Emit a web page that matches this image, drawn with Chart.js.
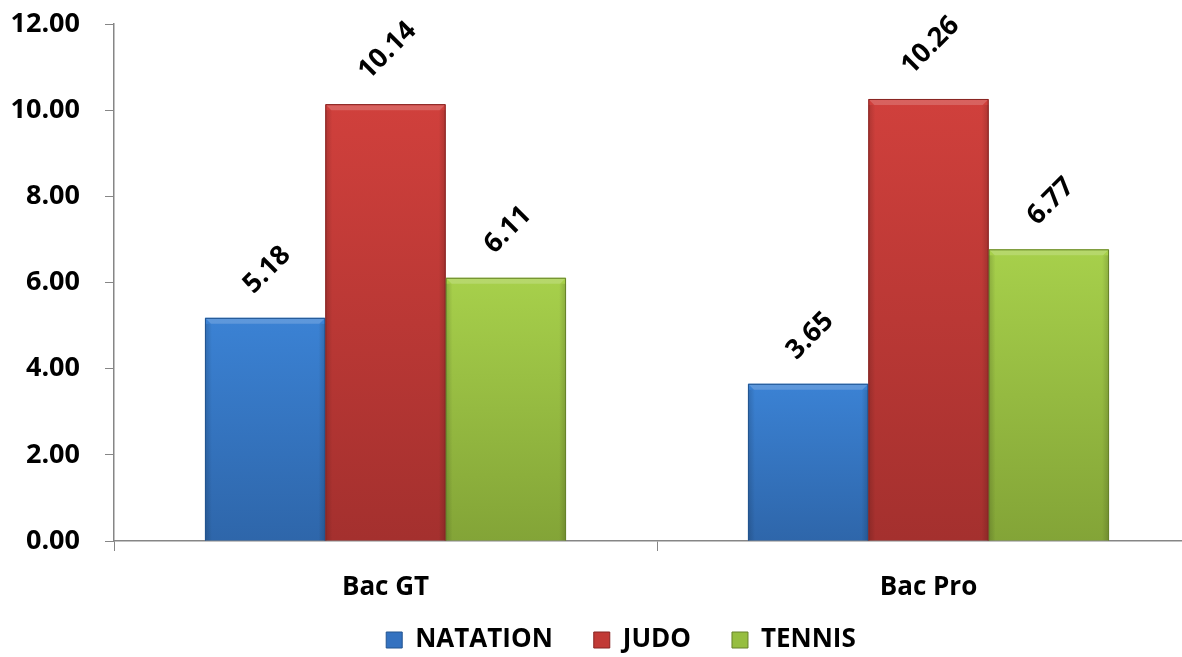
<!DOCTYPE html>
<html>
<head>
<meta charset="utf-8">
<script src="https://cdn.jsdelivr.net/npm/chart.js@4.4.1/dist/chart.umd.min.js"></script>
<style>
  html, body { margin: 0; padding: 0; background: #fff; overflow: hidden; }
  #wrap { width: 1182px; height: 657px; overflow: hidden; position: relative; }
  #c { position: absolute; left: 0; top: 0; }
</style>
</head>
<body>
<div id="wrap"><canvas id="c" width="1242" height="657"></canvas></div>
<script>
const categories = ['Bac GT', 'Bac Pro'];
const seriesNames = ['NATATION', 'JUDO', 'TENNIS'];
const natation = [5.18, 3.65];
const judo = [10.14, 10.26];
const tennis = [6.11, 6.77];
const yTicks = [0, 2, 4, 6, 8, 10, 12];

const palette = {
  NATATION: { top: '#3b82d4', bottom: '#2e66aa', solid: '#3472c0', edge: '#22548f' },
  JUDO:     { top: '#d0403c', bottom: '#a4302e', solid: '#c13a36', edge: '#862422' },
  TENNIS:   { top: '#a7d04b', bottom: '#83a437', solid: '#96be40', edge: '#66822a' }
};

const FONT = "'Open Sans', 'DejaVu Sans', sans-serif";

function grad(name) {
  return function (ctx) {
    const chart = ctx.chart;
    const p = palette[name];
    if (!chart.chartArea || ctx.raw === undefined) return p.solid;
    const y = chart.scales.y;
    const top = y.getPixelForValue(ctx.raw);
    const bottom = y.getPixelForValue(0);
    const g = chart.ctx.createLinearGradient(0, top, 0, bottom);
    g.addColorStop(0, p.top);
    g.addColorStop(1, p.bottom);
    return g;
  };
}

function makeDataset(name, values) {
  return {
    label: name,
    data: values,
    backgroundColor: grad(name),
    borderWidth: 0,
    categoryPercentage: 0.665,
    barPercentage: 1.0
  };
}

const bevelPlugin = {
  id: 'bevel',
  afterDatasetsDraw(chart) {
    const ctx = chart.ctx;
    chart.data.datasets.forEach((ds, i) => {
      const meta = chart.getDatasetMeta(i);
      const edge = palette[ds.label].edge;
      meta.data.forEach(el => {
        const half = el.width / 2;
        const l = el.x - half, r = el.x + half, t = el.y, b = el.base;
        ctx.save();
        ctx.fillStyle = 'rgba(255,255,255,0.18)';
        ctx.beginPath();
        ctx.moveTo(l + 1, t + 1);
        ctx.lineTo(r - 1, t + 1);
        ctx.lineTo(r - 6, t + 6);
        ctx.lineTo(l + 6, t + 6);
        ctx.closePath();
        ctx.fill();
        const gl = ctx.createLinearGradient(l, 0, l + 7, 0);
        gl.addColorStop(0, 'rgba(0,0,0,0.16)');
        gl.addColorStop(1, 'rgba(0,0,0,0)');
        ctx.fillStyle = gl;
        ctx.fillRect(l, t + 6, 7, b - t - 6);
        const gr = ctx.createLinearGradient(r - 7, 0, r, 0);
        gr.addColorStop(0, 'rgba(0,0,0,0)');
        gr.addColorStop(1, 'rgba(0,0,0,0.16)');
        ctx.fillStyle = gr;
        ctx.fillRect(r - 7, t + 6, 7, b - t - 6);
        ctx.strokeStyle = edge;
        ctx.lineWidth = 1;
        ctx.beginPath();
        ctx.moveTo(l + 0.5, b);
        ctx.lineTo(l + 0.5, t + 0.5);
        ctx.lineTo(r - 0.5, t + 0.5);
        ctx.lineTo(r - 0.5, b);
        ctx.stroke();
        ctx.restore();
      });
    });
  }
};

const labelPlugin = {
  id: 'rotLabels',
  afterDatasetsDraw(chart) {
    const ctx = chart.ctx;
    ctx.save();
    ctx.font = 'bold 27px ' + FONT;
    ctx.fillStyle = '#000';
    ctx.textAlign = 'center';
    ctx.textBaseline = 'middle';
    chart.data.datasets.forEach((ds, i) => {
      const meta = chart.getDatasetMeta(i);
      meta.data.forEach((el, j) => {
        const txt = ds.data[j].toFixed(2);
        const w = ctx.measureText(txt).width;
        const cx = el.x + 2;
        const cy = el.y - 22 - (w + 19) * 0.3536;
        ctx.save();
        ctx.translate(cx, cy);
        ctx.rotate(-Math.PI / 4);
        ctx.fillText(txt, 0, 0);
        ctx.restore();
      });
    });
    ctx.restore();
  }
};

const moveLegend = {
  id: 'moveLegend',
  afterLayout(chart) {
    const lg = chart.legend;
    if (lg) {
      lg.left += 21;
      lg.right += 21;
      lg.top = 586;
      lg.bottom = 586 + 90;
    }
  }
};

new Chart(document.getElementById('c'), {
  type: 'bar',
  data: {
    labels: categories,
    datasets: [
      makeDataset(seriesNames[0], natation),
      makeDataset(seriesNames[1], judo),
      makeDataset(seriesNames[2], tennis)
    ]
  },
  plugins: [bevelPlugin, labelPlugin, moveLegend],
  options: {
    responsive: false,
    animation: false,
    layout: { padding: { top: 24, right: 42, bottom: 0, left: 0 } },
    scales: {
      x: {
        grid: { display: true, drawOnChartArea: false, drawTicks: true, tickLength: 10, color: '#868686', offset: true },
        border: { display: true, color: '#868686', width: 1.5 },
        ticks: { color: '#000', font: { family: FONT, size: 26, weight: 'bold' }, padding: 21 },
        afterFit(scale) { scale.height = 76; scale.paddingLeft = 0; scale.paddingRight = 0; }
      },
      y: {
        min: 0,
        max: 12,
        afterBuildTicks(scale) { scale.ticks = yTicks.map(v => ({ value: v })); },
        grid: { display: true, drawOnChartArea: false, drawTicks: true, tickLength: 9, color: '#868686' },
        border: { display: true, color: '#868686', width: 1.5 },
        ticks: {
          color: '#000',
          font: { family: FONT, size: 27, weight: 'bold' },
          padding: 25,
          callback: v => Number(v).toFixed(2)
        },
        afterFit(scale) { scale.width = 114; scale.paddingTop = 0; scale.paddingBottom = 0; }
      }
    },
    plugins: {
      tooltip: { enabled: false },
      legend: {
        position: 'bottom',
        maxHeight: 40,
        labels: {
          color: '#000',
          font: { family: FONT, size: 26, weight: 'bold' },
          boxWidth: 16,
          boxHeight: 16,
          padding: 41,
          generateLabels(chart) {
            return chart.data.datasets.map((ds, i) => ({
              text: ds.label,
              fillStyle: palette[ds.label].solid,
              strokeStyle: palette[ds.label].edge,
              lineWidth: 1,
              hidden: false,
              datasetIndex: i
            }));
          }
        }
      }
    }
  }
});
</script>
</body>
</html>
